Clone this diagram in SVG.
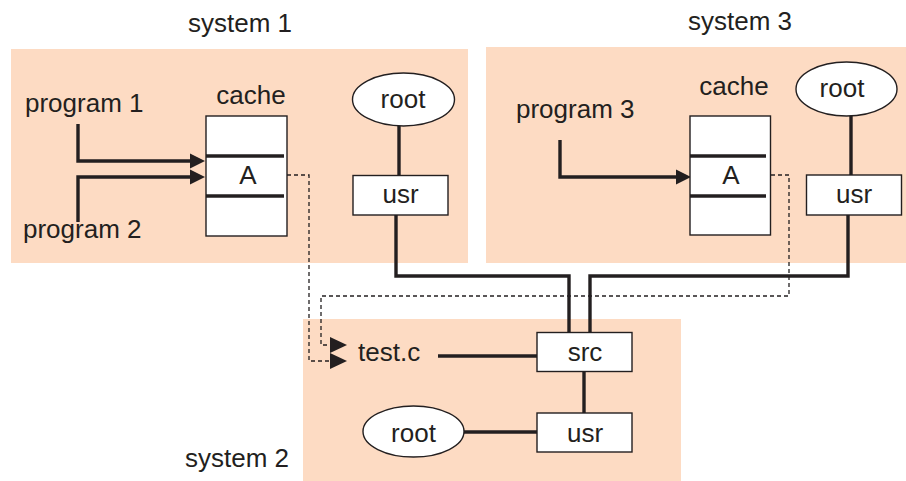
<svg xmlns="http://www.w3.org/2000/svg" width="906" height="481" viewBox="0 0 906 481">
  <defs>
    <style>
      .panel { fill: #fddbc3; stroke: none; }
      .box { fill: #ffffff; stroke: #231f20; stroke-width: 1.4; }
      .sep { stroke: #231f20; stroke-width: 3.4; fill: none; }
      .link { stroke: #231f20; stroke-width: 3.4; fill: none; }
      .dash { stroke: #231f20; stroke-width: 1.3; fill: none; stroke-dasharray: 4 3; }
      .head { fill: #231f20; stroke: none; }
      text { font-family: "Liberation Sans", Arial, sans-serif; font-size: 26px; fill: #231f20; }
      .c { text-anchor: middle; }
    </style>
  </defs>

  <!-- system panels -->
  <g id="panels">
    <rect class="panel" x="11" y="49" width="457" height="214"/>
    <rect class="panel" x="486" y="47" width="420" height="216"/>
    <rect class="panel" x="303" y="319" width="378" height="162"/>
  </g>

  <!-- panel titles -->
  <g id="titles">
    <text x="188" y="32">system 1</text>
    <text x="688" y="30">system 3</text>
    <text x="185" y="467">system 2</text>
  </g>

  <!-- connectors -->
  <g id="connectors">
    <!-- program arrows into the caches -->
    <polyline class="link" points="78,124 78,161 192,161"/>
    <polyline class="link" points="78,222 78,177 192,177"/>
    <polyline class="link" points="560,140 560,177 678,177"/>
    <polygon class="head" points="190,153.5 205,161 190,168.5"/>
    <polygon class="head" points="190,169.5 205,177 190,184.5"/>
    <polygon class="head" points="676,169.5 691,177 676,184.5"/>

    <!-- directory tree links -->
    <line class="link" x1="399" y1="126" x2="399" y2="176"/>
    <line class="link" x1="851" y1="116" x2="851" y2="176"/>
    <polyline class="link" points="396,215 396,276 569,276 569,332"/>
    <polyline class="link" points="848,215 848,276 590,276 590,332"/>
    <line class="link" x1="438" y1="356" x2="537" y2="356"/>
    <line class="link" x1="584" y1="372" x2="584" y2="413"/>
    <line class="link" x1="464" y1="432" x2="537" y2="432"/>

    <!-- cached copies referring to test.c -->
    <polyline class="dash" points="287,175 309,175 309,361 332,361"/>
    <polyline class="dash" points="771,175 789,175 789,296 321,296 321,345 332,345"/>
    <polygon class="head" points="330,337 347,345 330,353"/>
    <polygon class="head" points="330,353 347,361 330,369"/>
  </g>

  <!-- system 1 -->
  <g id="program1"><text x="25" y="112">program 1</text></g>
  <g id="program2"><text x="23" y="238">program 2</text></g>
  <g id="cache1">
    <text class="c" x="251" y="104">cache</text>
    <rect class="box" x="206" y="116" width="81" height="120"/>
    <line class="sep" x1="206" y1="156" x2="284" y2="156"/>
    <line class="sep" x1="206" y1="196" x2="284" y2="196"/>
    <text class="c" x="248" y="184">A</text>
  </g>
  <g id="root1">
    <ellipse class="box" cx="403.5" cy="99.5" rx="51" ry="26.5"/>
    <text class="c" x="403" y="108">root</text>
  </g>
  <g id="usr1">
    <rect class="box" x="353" y="175.5" width="95" height="39.5"/>
    <text class="c" x="400.5" y="203">usr</text>
  </g>

  <!-- system 3 -->
  <g id="program3"><text x="516" y="118">program 3</text></g>
  <g id="cache3">
    <text class="c" x="734" y="95">cache</text>
    <rect class="box" x="690" y="116" width="80.5" height="119"/>
    <line class="sep" x1="690" y1="156" x2="766" y2="156"/>
    <line class="sep" x1="690" y1="196" x2="766" y2="196"/>
    <text class="c" x="731" y="184">A</text>
  </g>
  <g id="root3">
    <ellipse class="box" cx="846.5" cy="89" rx="50.5" ry="27"/>
    <text class="c" x="842" y="97">root</text>
  </g>
  <g id="usr3">
    <rect class="box" x="806.5" y="175" width="95" height="40"/>
    <text class="c" x="854" y="203">usr</text>
  </g>

  <!-- system 2 -->
  <g id="testc"><text x="358" y="361">test.c</text></g>
  <g id="src2">
    <rect class="box" x="537" y="332.5" width="95" height="39"/>
    <text class="c" x="585" y="361">src</text>
  </g>
  <g id="usr2">
    <rect class="box" x="537" y="413" width="95" height="39"/>
    <text class="c" x="585" y="442">usr</text>
  </g>
  <g id="root2">
    <ellipse class="box" cx="413.5" cy="431.5" rx="50.5" ry="25.5"/>
    <text class="c" x="413.5" y="442">root</text>
  </g>
</svg>
